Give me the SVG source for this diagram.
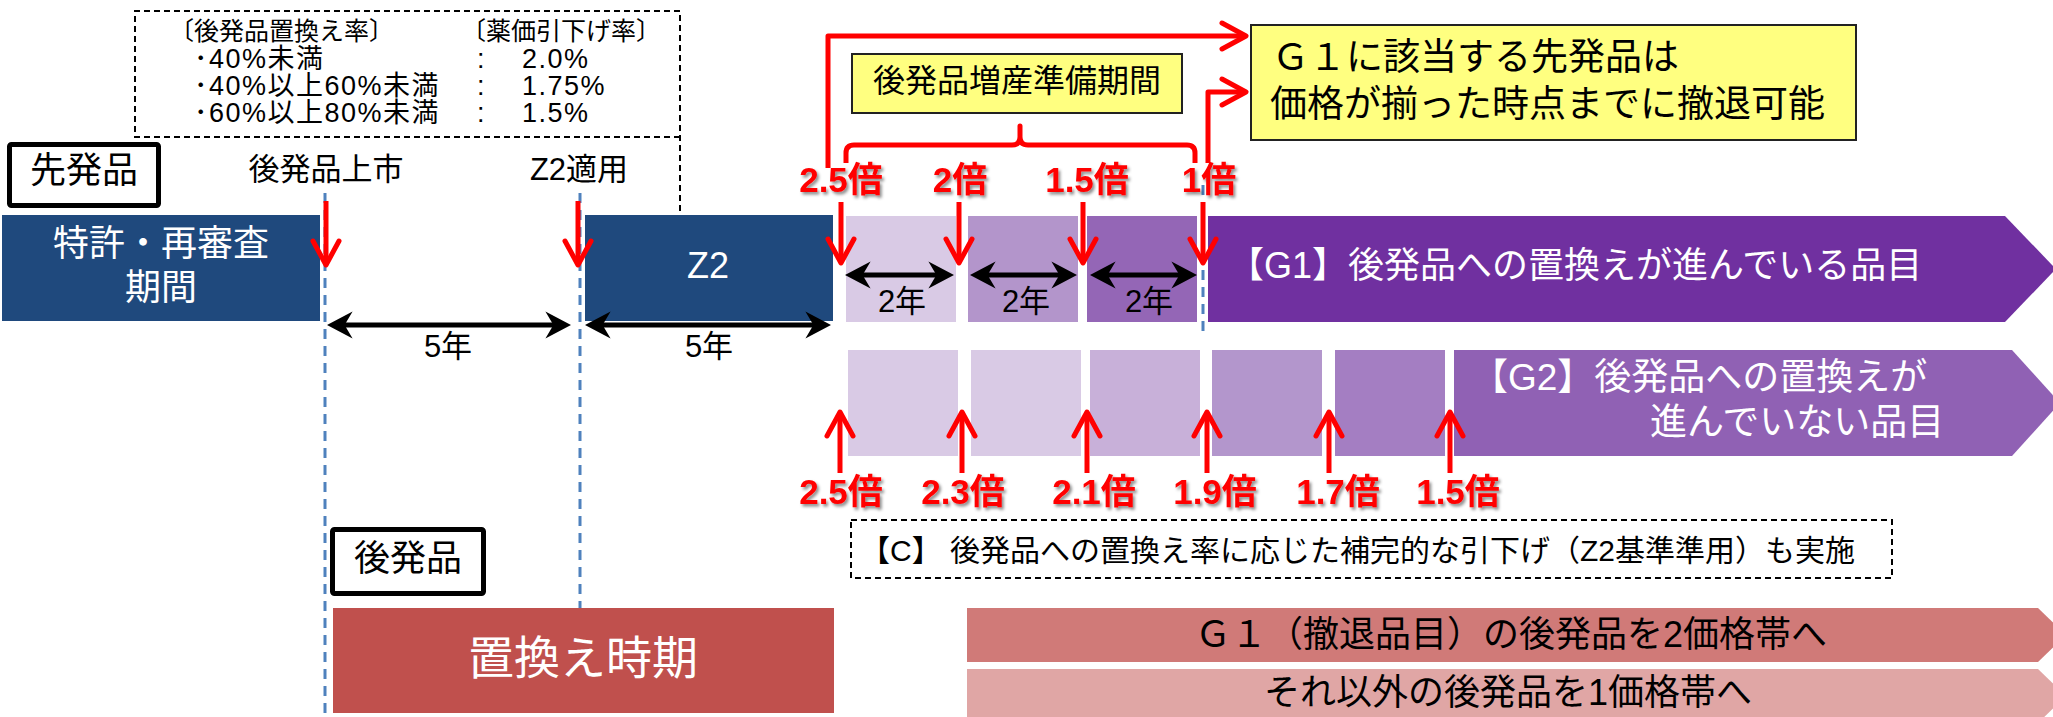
<svg xmlns="http://www.w3.org/2000/svg" width="2053" height="717" viewBox="0 0 2053 717">
<style>
.t{font-family:"Liberation Sans","Noto Sans CJK JP",sans-serif;fill:#000}
.w{fill:#fff}
.m{text-anchor:middle}
.lg{font-size:27px;letter-spacing:1.5px}
.r{font-family:"Liberation Sans","Noto Sans CJK JP",sans-serif;font-weight:bold;fill:#ff0000;font-size:35px;text-anchor:middle;filter:url(#sh)}
.bd{stroke:#4f81bd;stroke-width:3;stroke-dasharray:10 7;fill:none}
.ra{stroke:#ff0000;stroke-width:5;fill:none;stroke-linejoin:round}
.ba{stroke:#000;stroke-width:5;fill:none}
.dash{stroke:#000;stroke-width:2;stroke-dasharray:6 4;fill:none}
.yb{fill:#ffff80;stroke:#222;stroke-width:2}
</style>
<defs>
<filter id="sh" x="-10%" y="-20%" width="130%" height="150%">
<feDropShadow dx="2" dy="2.5" stdDeviation="1.5" flood-color="#000" flood-opacity="0.45"/>
</filter>
<marker id="rh" markerUnits="userSpaceOnUse" markerWidth="40" markerHeight="40" viewBox="-30 -20 40 40" refX="0" refY="0" orient="auto" overflow="visible">
<path d="M-24,-13 L0,0 L-24,13" fill="none" stroke="#ff0000" stroke-width="5" stroke-linecap="round" stroke-linejoin="round"/>
</marker>
<marker id="bh" markerUnits="userSpaceOnUse" markerWidth="40" markerHeight="40" viewBox="-40 -20 50 40" refX="-10" refY="0" orient="auto-start-reverse" overflow="visible">
<path d="M0,0 L-32,-17 L-22,0 L-32,17 Z" fill="#000"/>
</marker>
</defs>

<!-- guide lines -->
<g id="guides">
<line class="bd" x1="325" y1="193" x2="325" y2="717"/>
<line class="bd" x1="580" y1="193" x2="580" y2="717"/>
<line class="bd" x1="1203" y1="185" x2="1203" y2="334"/>
</g>

<g id="legend">
<path class="dash" d="M680,137 H135 V11 H680 V215"/>
<text class="t" font-size="25" x="169" y="40">〔後発品置換え率〕</text>
<text class="t" font-size="25" x="461" y="40">〔薬価引下げ率〕</text>
<text class="t lg" x="194" y="68">･40%未満</text>
<text class="t lg" x="194" y="95">･40%以上60%未満</text>
<text class="t lg" x="194" y="122">･60%以上80%未満</text>
<text class="t lg" x="477" y="68">:</text>
<text class="t lg" x="477" y="95">:</text>
<text class="t lg" x="477" y="122">:</text>
<text class="t lg" x="522" y="68">2.0%</text>
<text class="t lg" x="522" y="95">1.75%</text>
<text class="t lg" x="522" y="122">1.5%</text>
</g>

<g id="senpatsu-label">
<rect x="9.5" y="144.5" width="149" height="61" rx="2" fill="#fff" stroke="#000" stroke-width="5"/>
<text class="t m" font-size="36" x="84" y="183">先発品</text>
</g>
<g id="label-joushi"><text class="t m" font-size="31" x="326" y="180">後発品上市</text></g>
<g id="label-z2"><text class="t m" font-size="31" x="579" y="180">Z2適用</text></g>

<g id="patent">
<rect x="2" y="215" width="318" height="106" fill="#1f497d"/>
<text class="t w m" font-size="36" x="161" y="256">特許・再審査</text>
<text class="t w m" font-size="36" x="161" y="300">期間</text>
</g>
<g id="z2">
<rect x="585" y="215" width="248" height="106" fill="#1f497d"/>
<text class="t w m" font-size="36" x="708" y="278">Z2</text>
</g>

<g id="g1-steps">
<rect x="846" y="216" width="110" height="106" fill="#d9cae5"/>
<rect x="968" y="216" width="110" height="106" fill="#b395cb"/>
<rect x="1087" y="216" width="110" height="106" fill="#9466b6"/>
</g>
<g id="g1">
<path d="M1208,216 H2005 L2056,269 L2005,322 H1208 Z" fill="#7030a0"/>
<text class="t w" font-size="36" x="1228" y="278">【G1】後発品への置換えが進んでいる品目</text>
</g>

<g id="g2-steps">
<rect x="848" y="350" width="110" height="106" fill="#d9cae5"/>
<rect x="971" y="350" width="110" height="106" fill="#d9cae5"/>
<rect x="1090" y="350" width="110" height="106" fill="#c8b0d9"/>
<rect x="1212" y="350" width="110" height="106" fill="#b396cc"/>
<rect x="1335" y="350" width="110" height="106" fill="#a47ec2"/>
</g>
<g id="g2">
<path d="M1454,350 H2012 L2060,403 L2012,456 H1454 Z" fill="#9061b4"/>
<text class="t w" font-size="37" x="1471" y="390">【G2】後発品への置換えが</text>
<text class="t w" font-size="37" x="1650" y="435">進んでいない品目</text>
</g>

<g id="prep-box">
<rect class="yb" x="852" y="54" width="330" height="59"/>
<text class="t m" font-size="32" x="1017" y="92">後発品増産準備期間</text>
</g>
<g id="withdraw-box">
<rect class="yb" x="1251" y="25" width="605" height="115"/>
<text class="t" font-size="37" x="1272" y="70">Ｇ１に該当する先発品は</text>
<text class="t" font-size="37" x="1270" y="117">価格が揃った時点までに撤退可能</text>
</g>

<g id="c-box">
<rect class="dash" x="851" y="520" width="1041" height="58"/>
<text class="t" font-size="30" x="860" y="561">【C】 後発品への置換え率に応じた補完的な引下げ（Z2基準準用）も実施</text>
</g>

<g id="kouhatsu-label">
<rect x="332.5" y="529.5" width="151" height="64" rx="2" fill="#fff" stroke="#000" stroke-width="5"/>
<text class="t m" font-size="36" x="408" y="571">後発品</text>
</g>
<g id="replace">
<rect x="333" y="608" width="501" height="105" fill="#c0504d"/>
<text class="t w m" font-size="46" x="583" y="674">置換え時期</text>
</g>
<g id="band2">
<path d="M967,608 H2038 L2066,635 L2038,662 H967 Z" fill="#d07a78"/>
<text class="t m" font-size="36" x="1511" y="647">Ｇ１（撤退品目）の後発品を2価格帯へ</text>
</g>
<g id="band1">
<path d="M967,669 H2038 L2066,696 L2038,723 H967 Z" fill="#e0a6a5"/>
<text class="t m" font-size="36" x="1508" y="705">それ以外の後発品を1価格帯へ</text>
</g>

<g id="connectors">
<line class="ba" x1="335" y1="325" x2="563" y2="325" marker-start="url(#bh)" marker-end="url(#bh)"/>
<line class="ba" x1="593" y1="325" x2="823" y2="325" marker-start="url(#bh)" marker-end="url(#bh)"/>
<line class="ba" x1="853" y1="275" x2="946" y2="275" marker-start="url(#bh)" marker-end="url(#bh)"/>
<line class="ba" x1="978" y1="275" x2="1069" y2="275" marker-start="url(#bh)" marker-end="url(#bh)"/>
<line class="ba" x1="1098" y1="275" x2="1189" y2="275" marker-start="url(#bh)" marker-end="url(#bh)"/>

<line class="ra" x1="326" y1="201" x2="326" y2="265" marker-end="url(#rh)"/>
<line class="ra" x1="578" y1="201" x2="578" y2="265" marker-end="url(#rh)"/>
<line class="ra" x1="841" y1="202" x2="841" y2="263" marker-end="url(#rh)"/>
<line class="ra" x1="959" y1="202" x2="959" y2="263" marker-end="url(#rh)"/>
<line class="ra" x1="1083" y1="202" x2="1083" y2="263" marker-end="url(#rh)"/>
<line class="ra" x1="1203" y1="202" x2="1203" y2="263" marker-end="url(#rh)"/>

<line class="ra" x1="840" y1="473" x2="840" y2="412" marker-end="url(#rh)"/>
<line class="ra" x1="962" y1="473" x2="962" y2="412" marker-end="url(#rh)"/>
<line class="ra" x1="1087" y1="473" x2="1087" y2="412" marker-end="url(#rh)"/>
<line class="ra" x1="1207" y1="473" x2="1207" y2="412" marker-end="url(#rh)"/>
<line class="ra" x1="1329" y1="473" x2="1329" y2="412" marker-end="url(#rh)"/>
<line class="ra" x1="1450" y1="473" x2="1450" y2="412" marker-end="url(#rh)"/>

<path class="ra" d="M828,168 V36 H1246" marker-end="url(#rh)"/>
<path class="ra" d="M1208,163 V92 H1246" marker-end="url(#rh)"/>
<path class="ra" d="M846,163 V153 Q846,145 854,145 H1012 Q1020,145 1020,137 V126 V137 Q1020,145 1028,145 H1187 Q1195,145 1195,153 V163"/>
</g>

<g id="labels">
<text class="t m" font-size="31" x="448" y="357">5年</text>
<text class="t m" font-size="31" x="709" y="357">5年</text>
<text class="t m" font-size="31" x="902" y="312">2年</text>
<text class="t m" font-size="31" x="1026" y="312">2年</text>
<text class="t m" font-size="31" x="1149" y="312">2年</text>
<text class="r" x="841" y="192">2.5倍</text>
<text class="r" x="960" y="192">2倍</text>
<text class="r" x="1087" y="192">1.5倍</text>
<text class="r" x="1209" y="192">1倍</text>
<text class="r" x="841" y="504">2.5倍</text>
<text class="r" x="963" y="504">2.3倍</text>
<text class="r" x="1094" y="504">2.1倍</text>
<text class="r" x="1215" y="504">1.9倍</text>
<text class="r" x="1338" y="504">1.7倍</text>
<text class="r" x="1458" y="504">1.5倍</text>
</g>
</svg>
